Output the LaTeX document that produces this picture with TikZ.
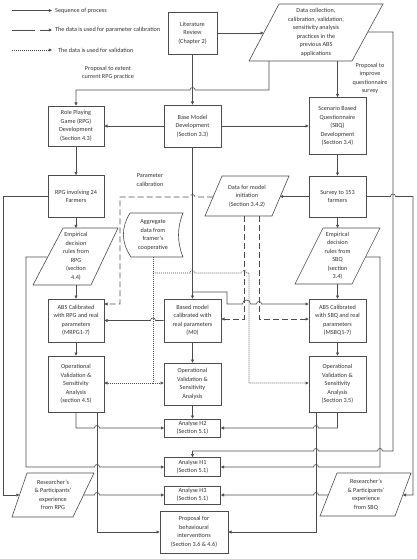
\documentclass[tikz,border=0pt]{standalone}
\usepackage{fontspec}
\setmainfont{Carlito}
\usetikzlibrary{arrows.meta}
\definecolor{lc}{gray}{0.3}
\definecolor{tc}{gray}{0.2}
\newcommand\fs{\fontsize{6.2}{8.5}\selectfont}
\tikzset{
  box/.style={draw=lc, line width=0.6pt, fill=white, inner sep=1pt, align=center, text=tc, font=\fs},
  shp/.style={draw=lc, line width=0.6pt, fill=white},
  txt/.style={inner sep=0pt, align=center, text=tc, font=\fs},
  ln/.style={draw=lc, line width=0.6pt},
  arr/.style={ln, -{Triangle[length=3.2pt,width=3pt]}},
  cal/.style={arr, dash pattern=on 6pt off 3pt},
  val/.style={arr, dash pattern=on 1pt off 1pt},
  % hops: radius, x, y ; hr = left-to-right, hl = right-to-left
  hr/.style n args={3}{insert path={-- ({#2-#1},#3) .. controls ({#2-#1},{#3-1.33*#1}) and ({#2+#1},{#3-1.33*#1}) .. ({#2+#1},#3)}},
  hl/.style n args={3}{insert path={-- ({#2+#1},#3) .. controls ({#2+#1},{#3-1.33*#1}) and ({#2-#1},{#3-1.33*#1}) .. ({#2-#1},#3)}},
}
\begin{document}
\begin{tikzpicture}[x=1pt,y=-1pt]
\useasboundingbox (0,0) rectangle (417,559);

% ---------- legend ----------
\coordinate (la1) at (12,10.5); \coordinate (lb1) at (52,10.5);
\coordinate (la2) at (12,30); \coordinate (lb2) at (52,30);
\coordinate (la3) at (12,50); \coordinate (lb3) at (52,50);
\draw[arr] (la1) -- (lb1);
\draw[arr, dash pattern=on 23pt off 5pt on 12pt] (la2) -- (lb2);
\draw[val] (la3) -- (lb3);
\node[txt, anchor=west] (lt1) at (55,10.5) {Sequence of process};
\node[txt, anchor=west] (lt2) at (55,30) {The data is used for parameter calibration};
\node[txt, anchor=west] (lt3) at (58,50) {The data is used for validation};

% ---------- labels ----------
\node[txt] (lp1) at (108,73) {Proposal to extent\\current RPG practice};
\node[txt] (lp2) at (150,180) {Parameter\\calibration};
\node[txt] (lp3) at (370,78.5) {Proposal to\\improve\\questionnaire\\survey};

% ---------- boxes ----------
\node[box, minimum width=49pt, minimum height=42pt] (lit) at (192.5,33) {Literature\\Review\\(Chapter 2)};
\node[box, minimum width=57pt, minimum height=42pt] (base) at (192.5,126) {Base Model\\Development\\(Section 3.3)};
\node[box, minimum width=56pt, minimum height=40pt] (rpgd) at (76,126) {Role Playing\\Game (RPG)\\Development\\(Section 4.3)};
\node[box, minimum width=57pt, minimum height=57pt] (sbqd) at (337.5,126) {Scenario Based\\Questionnaire\\(SBQ)\\Development\\(Section 3.4)};
\node[box, minimum width=56pt, minimum height=42pt] (rpg24) at (76,196.5) {RPG involving 24\\Farmers};
\node[box, minimum width=57pt, minimum height=41pt] (survey) at (337.5,196.5) {Survey to 153\\farmers};
\node[box, minimum width=56pt, minimum height=43pt] (absrpg) at (76,320.5) {ABS Calibrated\\with RPG and real\\parameters\\(MRPG1-7)};
\node[box, minimum width=57pt, minimum height=43pt] (m0) at (192.5,320.5) {Based model\\calibrated with\\real parameters\\(M0)};
\node[box, minimum width=57pt, minimum height=43pt] (abssbq) at (337.5,320.5) {ABS Calibrated\\with SBQ and real\\parameters\\(MSBQ1-7)};
\node[box, minimum width=56pt, minimum height=56pt] (ovr) at (76,384) {Operational\\Validation \&\\Sensitivity\\Analysis\\(section 4.5)};
\node[box, minimum width=57pt, minimum height=42pt] (ovm) at (192.5,384) {Operational\\Validation \&\\Sensitivity\\Analysis};
\node[box, minimum width=57pt, minimum height=56pt] (ovs) at (337.5,384) {Operational\\Validation \&\\Sensitivity\\Analysis\\(Section 3.5)};
\node[box, minimum width=56pt, minimum height=18pt] (h2) at (192.5,428) {Analyse H2\\(Section 5.1)};
\node[box, minimum width=56pt, minimum height=19pt] (h1) at (192.5,467) {Analyse H1\\(Section 5.1)};
\node[box, minimum width=56pt, minimum height=18pt] (h3) at (192.5,495) {Analyse H3\\(Section 5.1)};
\node[box, minimum width=68pt, minimum height=42pt] (prop) at (194,532) {Proposal for\\behavioural\\interventions\\(Section 3.6 \& 4.6)};

% ---------- parallelograms and stored data ----------
\draw[shp] (279,4) -- (383,4) -- (352,61) -- (249,61) -- cycle;
\node[txt] (dc) at (316,32.5) {Data collection,\\calibration, validation,\\sensitivity analysis\\practices in the\\previous ABS\\applications};
\draw[shp] (222,176) -- (289,176) -- (272,216) -- (205,216) -- cycle;
\node[txt] (dmi) at (247,196) {Data for model\\initiation\\(Section 3.4.2)};
\draw[shp] (63,228) -- (118,228) -- (91,285) -- (33,285) -- cycle;
\node[txt] (emprpg) at (76,256.5) {Empirical\\decision\\rules from\\RPG\\(section\\4.4)};
\draw[shp] (323,228) -- (380,228) -- (352,284) -- (295,284) -- cycle;
\node[txt] (empsbq) at (337.5,256) {Empirical\\decision\\rules from\\SBQ\\(section\\3.4)};
\draw[shp] (130,213) -- (183,213) .. controls (177,228) and (177,242) .. (183,257) -- (131,257) .. controls (121,242) and (121,228) .. (130,213);
\node[txt] (agg) at (153,235) {Aggregate\\data from\\framer's\\cooperative};
\draw[shp] (27,473) -- (94,473) -- (73,517) -- (12,517) -- cycle;
\node[txt] (resrpg) at (53,495) {Researcher's\\\& Participants'\\experience\\from RPG};
\draw[shp] (337,473) -- (411,473) -- (395,516) -- (320,516) -- cycle;
\node[txt] (ressbq) at (366,494.5) {Researcher's\\\& Participants'\\experience\\from SBQ};

% named connector ends on the slanted / curved shapes
\coordinate (dcW) at (263.7,33);
\coordinate (dcE) at (367.8,32);
\coordinate (dcS1) at (269,61);
\coordinate (dcS2) at (337.5,61);
\coordinate (dmiE) at (280,196.5);
\coordinate (dmiW) at (213,197);
\coordinate (dmiS1) at (244,216);
\coordinate (dmiS2) at (259,216);
\coordinate (emprpgN) at (76,228);
\coordinate (emprpgS) at (76,285);
\coordinate (emprpgW) at (47.7,257);
\coordinate (empsbqN) at (337.5,228);
\coordinate (empsbqS) at (337.5,284);
\coordinate (empsbqE) at (365.5,257);
\coordinate (aggS) at (153,257);
\coordinate (resrpgW) at (19.5,495);
\coordinate (resrpgE) at (83.5,495);
\coordinate (ressbqW) at (328.3,495);
\coordinate (ressbqE) at (402.8,495);

% ---------- sequence connectors ----------
\draw[arr] (lit.east) -- (dcW);
\draw[arr] (lit.south) -- (base.north);
\draw[arr] (dcS1) -- (269,90) [hl={2.5}{192.5}{90}] -- (76,90) -- (rpgd.north);
\draw[arr] (dcS2) -- (sbqd.north);
\draw[arr] (dcE) -- (393,32) -- (393,451) [hl={2.5}{380}{451}] [hl={2.5}{316}{451}] -- (192.5,451) -- (h1.north);
\draw[arr] (base.west) -- (rpgd.east);
\draw[arr] (base.east) -- (sbqd.west);
\draw[arr] (rpgd.south) -- (rpg24.north);
\draw[arr] (sbqd.south) -- (survey.north);
\draw[arr] (rpg24.south) -- (emprpgN);
\draw[arr] (survey.south) -- (empsbqN);
\draw[arr] (survey.west) -- (dmiE);
\draw[arr] (survey.east) [hr={2.5}{393}{196.5}] -- (413,196.5) -- (413,495) -- (ressbqE);
\draw[arr] (rpg24.west) -- (3,196.5) -- (3,495) -- (resrpgW);
\draw[arr] (emprpgS) -- (absrpg.north);
\draw[arr] (empsbqS) -- (abssbq.north);
\draw[arr] (emprpgW) -- (26,257) -- (26,467) [hr={2.5}{97}{467}] -- (h1.west);
\draw[arr] (empsbqE) -- (380,257) -- (380,467) [hl={2.5}{316}{467}] -- (h1.east);
\draw[arr] (base.south) -- (m0.north);
\draw[arr] (192.5,292) -- (227,292) -- (227,304) [hr={4}{246.5}{304}] [hr={2.5}{259}{304}] -- (abssbq.west |- 0,304);
\draw[arr] (m0.west) [hl={2.5}{153}{320.5}] -- (absrpg.east);
\draw[arr] (absrpg.south) -- (ovr.north);
\draw[arr] (m0.south) -- (ovm.north);
\draw[arr] (abssbq.south) -- (ovs.north);
\draw[arr] (ovm.south) -- (h2.north);
\draw[arr] (76,412) -- (76,428) [hr={2.5}{97}{428}] -- (h2.west);
\draw[arr] (337.5,412) -- (337.5,428) [hl={2.5}{316}{428}] -- (h2.east);
\draw[arr] (97,412) -- (97,532) -- (prop.west);
\draw[arr] (316,412) -- (316,532) -- (prop.east);
\draw[arr] (resrpgE) [hr={2.5}{97}{495}] -- (h3.west);
\draw[arr] (ressbqW) [hl={2.5}{316}{495}] -- (h3.east);

% ---------- calibration (dashed) ----------
\draw[cal] (dmiW) [hl={2.5}{192.5}{197}] -- (120,197) -- (120,304) -- (absrpg.east |- 0,304);
\draw[cal] (dmiS1) -- (244,319) -- (m0.east |- 0,319);
\draw[cal] (dmiS2) -- (259,319) -- (abssbq.west |- 0,319);

% ---------- validation (dotted) ----------
\draw[val] (aggS) -- (153,383) -- (ovr.east |- 0,383);
\draw[val] (153,383) -- (ovm.west |- 0,383);
\draw[val] (153,273) [hr={2.5}{192.5}{273}] [hr={2.5}{244}{273}] -- (249,273) -- (249,383) -- (ovs.west |- 0,383);
\end{tikzpicture}
\end{document}
